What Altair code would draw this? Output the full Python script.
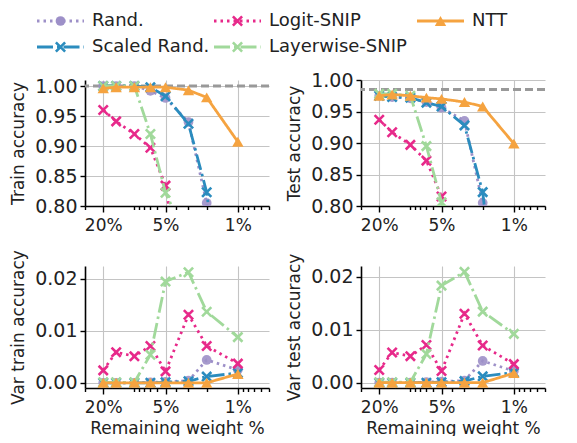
import altair as alt
import pandas as pd

# ---------------- data ----------------
pct = [20, 15, 10, 7, 5, 3, 2, 1]
methods = ["Rand.", "Scaled Rand.", "Logit-SNIP", "Layerwise-SNIP", "NTT"]

train_rand = [1.000, 1.000, 1.000, 0.992, 0.980, 0.940, 0.805, 0.40]
train_scaled = [1.000, 1.000, 1.000, 0.998, 0.983, 0.937, 0.823, 0.40]
train_logit = [0.960, 0.941, 0.920, 0.897, 0.834, 0.60, 0.45, 0.30]
train_layer = [1.000, 1.000, 1.000, 0.920, 0.822, 0.74, 0.50, 0.30]
train_ntt = [0.996, 0.998, 0.998, 0.998, 0.998, 0.993, 0.981, 0.907]

test_rand = [0.975, 0.973, 0.971, 0.965, 0.956, 0.935, 0.805, 0.40]
test_scaled = [0.975, 0.973, 0.972, 0.964, 0.958, 0.928, 0.822, 0.40]
test_logit = [0.937, 0.917, 0.897, 0.872, 0.815, 0.60, 0.45, 0.30]
test_layer = [0.978, 0.978, 0.975, 0.895, 0.806, 0.70, 0.50, 0.30]
test_ntt = [0.975, 0.977, 0.975, 0.972, 0.970, 0.965, 0.958, 0.899]

vtrain_rand = [0.0, 0.0, 0.0, 0.0001, 0.0002, 0.0004, 0.0044, 0.0025]
vtrain_scaled = [0.0, 0.0, 0.0, 0.0, 0.0001, 0.0003, 0.0012, 0.0019]
vtrain_logit = [0.0024, 0.0059, 0.0051, 0.0071, 0.0022, 0.0131, 0.0071, 0.0037]
vtrain_layer = [0.0001, 0.0001, 0.0001, 0.0054, 0.0195, 0.0213, 0.0137, 0.0088]
vtrain_ntt = [0.0, 0.0, 0.0, 0.0, 0.0, 0.0, 0.0, 0.0017]

vtest_rand = [0.0, 0.0, 0.0, 0.0001, 0.0002, 0.0004, 0.0041, 0.0022]
vtest_scaled = [0.0, 0.0, 0.0, 0.0, 0.0001, 0.0003, 0.0012, 0.0019]
vtest_logit = [0.0024, 0.0057, 0.0050, 0.0071, 0.0022, 0.0130, 0.0070, 0.0035]
vtest_layer = [0.0001, 0.0001, 0.0001, 0.0054, 0.0183, 0.0209, 0.0134, 0.0092]
vtest_ntt = [0.0, 0.0, 0.0, 0.0, 0.0, 0.0, 0.0, 0.0018]

train_ref = 1.0
test_ref = 0.985

major_ticks = [20, 5, 1]
all_ticks = [30, 20, 10, 9, 8, 7, 6, 5, 4, 3, 2, 1, 0.9, 0.8, 0.7, 0.6, 0.5]

# ---------------- styles ----------------
XPATH = "M-1,-1L1,1M-1,1L1,-1"
styles = {
    "Rand.": dict(color="#9d90c8", dash=[2.5, 4], shape="circle", filled=True, size=95, sw=0, op=0.9),
    "Scaled Rand.": dict(color="#2b8cbe", dash=[16, 4, 2.5, 4], shape=XPATH, filled=False, size=85, sw=2.6, op=1),
    "Logit-SNIP": dict(color="#e7298a", dash=[2.5, 4], shape=XPATH, filled=False, size=85, sw=2.6, op=1),
    "Layerwise-SNIP": dict(color="#a1d99b", dash=[16, 4, 2.5, 4], shape=XPATH, filled=False, size=85, sw=2.6, op=1),
    "NTT": dict(color="#f5a340", dash=[1, 0], shape="triangle-up", filled=True, size=130, sw=0, op=1),
}
# legend glyph anchors relative to the first panel (layout only)
leg_x = [-48, -48, 129, 129, 332]
leg_y = [-59, -33, -59, -33, -59]


def frame(series):
    rows = []
    for m, vals in zip(methods, series):
        for p, v in zip(pct, vals):
            rows.append({"method": m, "pct": p, "value": v})
    return pd.DataFrame(rows)


df_train = frame([train_rand, train_scaled, train_logit, train_layer, train_ntt])
df_test = frame([test_rand, test_scaled, test_logit, test_layer, test_ntt])
df_vtrain = frame([vtrain_rand, vtrain_scaled, vtrain_logit, vtrain_layer, vtrain_ntt])
df_vtest = frame([vtest_rand, vtest_scaled, vtest_logit, vtest_layer, vtest_ntt])

is_major = "indexof([20,5,1], datum.value) >= 0"


def legend_layers():
    out = []
    for m, lx, ly in zip(methods, leg_x, leg_y):
        st = styles[m]
        b = alt.Chart(pd.DataFrame({"method": [m]}))
        out.append(
            b.mark_rule(color=st["color"], strokeDash=st["dash"], strokeWidth=2.8).encode(
                x=alt.value(lx), x2=alt.value(lx + 47), y=alt.value(ly)
            )
        )
        out.append(
            b.mark_point(shape=st["shape"], filled=st["filled"], size=st["size"], color=st["color"],
                         strokeWidth=st["sw"] if not st["filled"] else 0, opacity=1).encode(
                x=alt.value(lx + 23.5), y=alt.value(ly)
            )
        )
        out.append(
            b.mark_text(align="left", baseline="middle", fontSize=18, color="#222222").encode(
                x=alt.value(lx + 55), y=alt.value(ly), text="method:N"
            )
        )
    return out


def panel(df, ytitle, ydom, yvals, ref=None, xtitle=False, clip=False, h=124, with_legend=False):
    x = alt.X(
        "pct:Q",
        scale=alt.Scale(type="log", domain=[0.5, 30], reverse=True, nice=False),
        axis=alt.Axis(
            values=all_ticks,
            labelExpr=is_major + " ? datum.value + '%' : ''",
            title="Remaining weight %" if xtitle else None,
            labelOverlap=False,
            labelFlush=False,
            labelFontSize=17,
            tickSize={"condition": {"test": is_major, "value": 6}, "value": 3.5},
            gridOpacity={"condition": {"test": is_major, "value": 1}, "value": 0},
            labelPadding=5,
            titlePadding=5,
        ),
    )
    y = alt.Y(
        "value:Q",
        scale=alt.Scale(domain=ydom, nice=False, zero=False),
        axis=alt.Axis(values=yvals, format=".2f", title=ytitle, tickSize=5, labelPadding=3,
                      titlePadding=7, labelFontSize=19),
    )
    layers = []
    if ref is not None:
        layers.append(
            alt.Chart(pd.DataFrame({"value": [ref]}))
            .mark_rule(color="#999999", strokeDash=[8, 4], strokeWidth=3)
            .encode(y=y)
        )
    for m in methods:
        st = styles[m]
        base = alt.Chart(df[df.method == m]).encode(x=x, y=y)
        layers.append(
            base.mark_line(color=st["color"], strokeDash=st["dash"], strokeWidth=2.8, clip=clip)
        )
        layers.append(
            base.mark_point(
                shape=st["shape"], filled=st["filled"], size=st["size"], color=st["color"],
                strokeWidth=st["sw"] if not st["filled"] else 0, opacity=st["op"], clip=clip,
            )
        )
    if with_legend:
        layers += legend_layers()
    return alt.layer(*layers).properties(width=184, height=h)


p1 = panel(df_train, "Train accuracy", [0.8, 1.01], [0.80, 0.85, 0.90, 0.95, 1.00],
           ref=train_ref, clip=True, h=126, with_legend=True)
p2 = panel(df_test, "Test accuracy", [0.8, 1.0], [0.80, 0.85, 0.90, 0.95, 1.00],
           ref=test_ref, clip=True, h=126)
p3 = panel(df_vtrain, "Var train accuracy", [-0.001, 0.0225], [0.0, 0.01, 0.02], xtitle=True, h=122)
p4 = panel(df_vtest, "Var test accuracy", [-0.001, 0.022], [0.0, 0.01, 0.02], xtitle=True, h=122)

chart = (
    alt.concat(p1, p2, p3, p4, columns=2, spacing={"row": 60, "column": 92}, bounds="flush")
    .properties(padding={"left": 1, "top": 3, "right": 0, "bottom": 0})
    .configure(font="DejaVu Sans")
    .configure_view(stroke=None)
    .configure_axis(
        labelFontSize=16, titleFontSize=17, titleFontWeight="normal",
        labelColor="#222222", titleColor="#222222",
        domainColor="#000000", domainWidth=1.6,
        tickColor="#000000", tickWidth=1.4,
        gridColor="#c4c4c4", gridWidth=1.1,
    )
)

chart.save("out.html", embed_options={"renderer": "svg", "actions": False})
